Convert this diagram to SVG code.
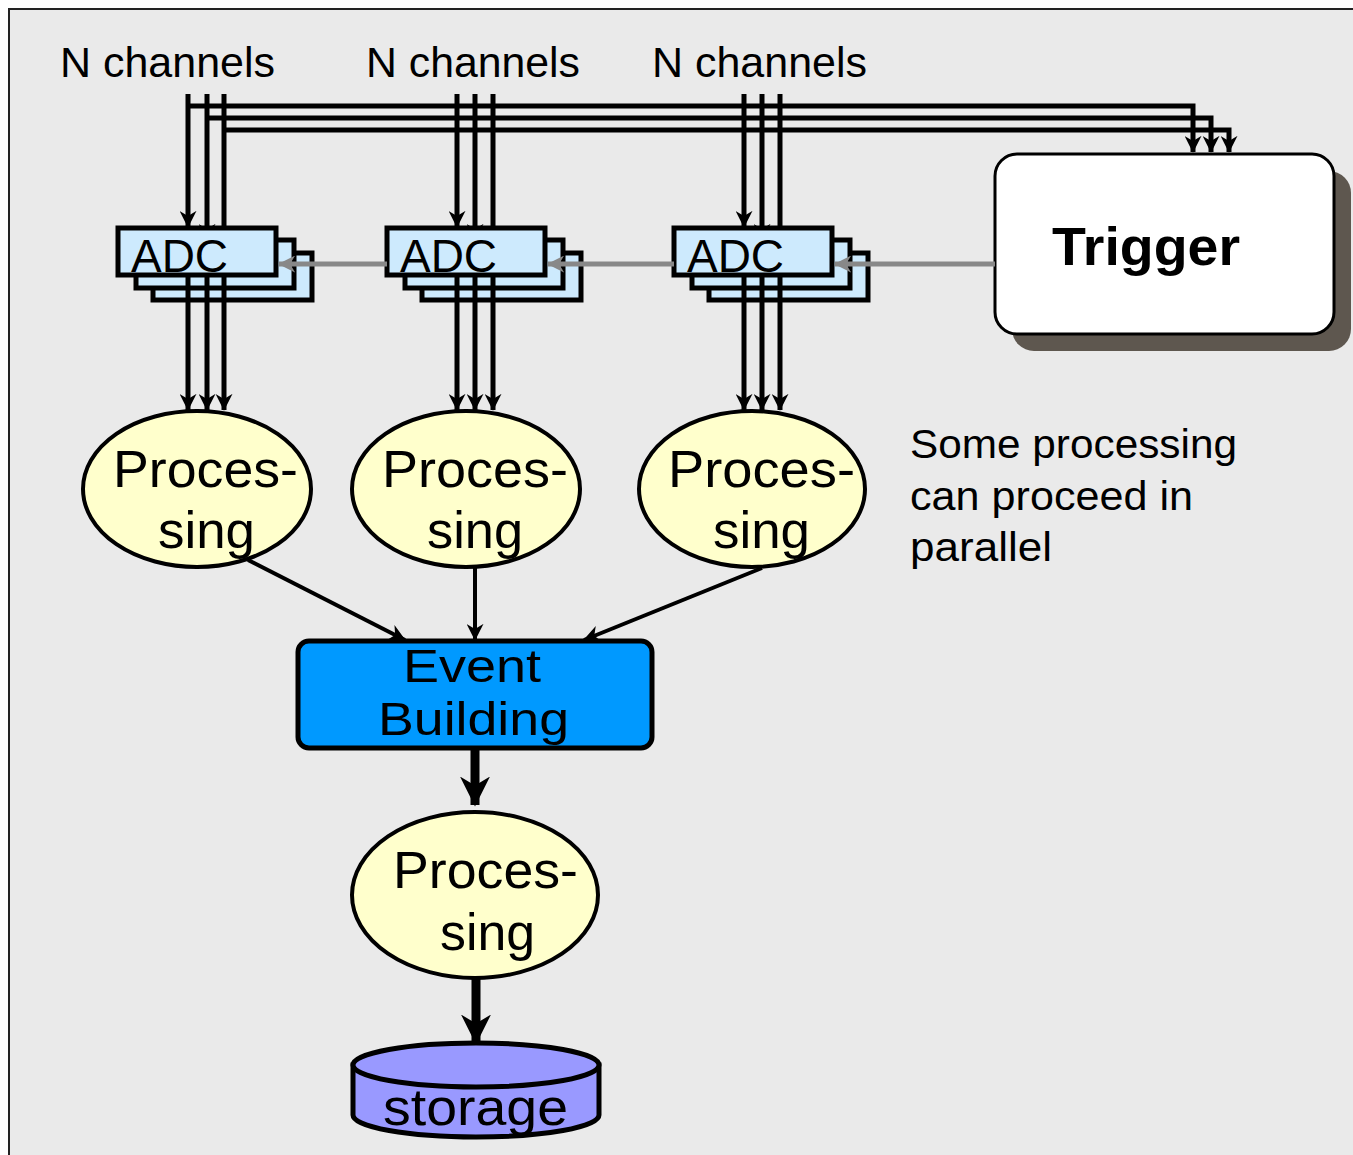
<svg xmlns="http://www.w3.org/2000/svg" width="1353" height="1155" viewBox="0 0 1353 1155">
<defs>
<style>
.t{font-family:"Liberation Sans",Arial,sans-serif;fill:#000}
.w{stroke:#000;stroke-width:5;fill:none}
.c{stroke:#000;stroke-width:4;fill:none}
.g{stroke:#888;stroke-width:5;fill:none}
.adc{fill:#cdeafd;stroke:#000;stroke-width:5}
.proc{fill:#ffffcc;stroke:#000;stroke-width:4}
</style>
<marker id="ah" viewBox="0 0 10 10" refX="9.5" refY="5" markerWidth="17" markerHeight="17" markerUnits="userSpaceOnUse" orient="auto"><path d="M0,0 L10,5 L0,10 L3,5 z" fill="#000"/></marker>
<marker id="ahg" viewBox="0 0 10 10" refX="9.5" refY="5" markerWidth="17" markerHeight="17" markerUnits="userSpaceOnUse" orient="auto"><path d="M0,0 L10,5 L0,10 L3,5 z" fill="#888"/></marker>
<marker id="ahb" viewBox="0 0 10 10" refX="9.5" refY="5" markerWidth="30" markerHeight="30" markerUnits="userSpaceOnUse" orient="auto"><path d="M0,0 L10,5 L0,10 L3,5 z" fill="#000"/></marker>
</defs>
<rect x="0" y="0" width="1353" height="1155" fill="#fff"/>
<rect x="9" y="9" width="1360" height="1160" fill="#eaeaea" stroke="#222" stroke-width="2"/>

<g id="labels">
<text class="t" x="60" y="77" font-size="42" textLength="215" lengthAdjust="spacingAndGlyphs">N channels</text>
<text class="t" x="366" y="77" font-size="42" textLength="214" lengthAdjust="spacingAndGlyphs">N channels</text>
<text class="t" x="652" y="77" font-size="42" textLength="215" lengthAdjust="spacingAndGlyphs">N channels</text>
<text class="t" x="910" y="458" font-size="41" textLength="327" lengthAdjust="spacingAndGlyphs">Some processing</text>
<text class="t" x="910" y="510" font-size="41" textLength="283" lengthAdjust="spacingAndGlyphs">can proceed in</text>
<text class="t" x="910" y="561" font-size="41" textLength="142" lengthAdjust="spacingAndGlyphs">parallel</text>
</g>

<g id="trigger">
<rect x="1012" y="171" width="339" height="180" rx="22" fill="#5e574f"/>
<rect x="995" y="154" width="339" height="180" rx="22" fill="#fff" stroke="#000" stroke-width="3"/>
<text class="t" x="1052" y="265" font-size="54" font-weight="bold" textLength="188" lengthAdjust="spacingAndGlyphs">Trigger</text>
</g>

<g id="connectors-top">
<path class="w" d="M188,106 H1193 V152" marker-end="url(#ah)"/>
<path class="w" d="M207,118 H1211 V152" marker-end="url(#ah)"/>
<path class="w" d="M224,130 H1229 V152" marker-end="url(#ah)"/>
<path class="w" d="M188,94 V227" marker-end="url(#ah)"/>
<path class="w" d="M207,94 V240" marker-end="url(#ah)"/>
<path class="w" d="M224,94 V232"/>
<path class="w" d="M457,94 V227" marker-end="url(#ah)"/>
<path class="w" d="M475,94 V240" marker-end="url(#ah)"/>
<path class="w" d="M493,94 V232"/>
<path class="w" d="M744,94 V227" marker-end="url(#ah)"/>
<path class="w" d="M762,94 V240" marker-end="url(#ah)"/>
<path class="w" d="M780,94 V232"/>
</g>

<g id="adc1">
<rect class="adc" x="153" y="253" width="159" height="47"/>
<rect class="adc" x="136" y="240" width="158" height="48"/>
<rect class="adc" x="118" y="228" width="158" height="47"/>
<text class="t" x="131" y="272" font-size="46" textLength="97" lengthAdjust="spacingAndGlyphs">ADC</text>
</g>
<g id="adc2">
<rect class="adc" x="422" y="253" width="159" height="47"/>
<rect class="adc" x="405" y="240" width="158" height="48"/>
<rect class="adc" x="387" y="228" width="158" height="47"/>
<text class="t" x="400" y="272" font-size="46" textLength="97" lengthAdjust="spacingAndGlyphs">ADC</text>
</g>
<g id="adc3">
<rect class="adc" x="709" y="253" width="159" height="47"/>
<rect class="adc" x="692" y="240" width="158" height="48"/>
<rect class="adc" x="674" y="228" width="158" height="47"/>
<text class="t" x="687" y="272" font-size="46" textLength="97" lengthAdjust="spacingAndGlyphs">ADC</text>
</g>

<g id="connectors">
<path class="g" d="M995,264 H835" marker-end="url(#ahg)"/>
<path class="g" d="M674,264 H548" marker-end="url(#ahg)"/>
<path class="g" d="M387,264 H279" marker-end="url(#ahg)"/>
<path class="w" d="M188,275 V410" marker-end="url(#ah)"/>
<path class="w" d="M207,275 V410" marker-end="url(#ah)"/>
<path class="w" d="M224,275 V410" marker-end="url(#ah)"/>
<path class="w" d="M457,275 V410" marker-end="url(#ah)"/>
<path class="w" d="M475,275 V410" marker-end="url(#ah)"/>
<path class="w" d="M493,275 V410" marker-end="url(#ah)"/>
<path class="w" d="M744,275 V410" marker-end="url(#ah)"/>
<path class="w" d="M762,275 V410" marker-end="url(#ah)"/>
<path class="w" d="M780,275 V410" marker-end="url(#ah)"/>
<path class="c" d="M248,560 L405,640" marker-end="url(#ah)"/>
<path class="c" d="M475,567 V640" marker-end="url(#ah)"/>
<path class="c" d="M762,568 L584,640" marker-end="url(#ah)"/>
<path stroke="#000" stroke-width="9" fill="none" d="M475,748 V805" marker-end="url(#ahb)"/>
<path stroke="#000" stroke-width="9" fill="none" d="M476,978 V1043" marker-end="url(#ahb)"/>
</g>

<g id="proc1">
<ellipse class="proc" cx="197" cy="489" rx="114" ry="78"/>
<text class="t" x="113" y="487" font-size="52" textLength="185" lengthAdjust="spacingAndGlyphs">Proces-</text>
<text class="t" x="158" y="548" font-size="52" textLength="97" lengthAdjust="spacingAndGlyphs">sing</text>
</g>
<g id="proc2">
<ellipse class="proc" cx="466" cy="489" rx="114" ry="78"/>
<text class="t" x="382" y="487" font-size="52" textLength="186" lengthAdjust="spacingAndGlyphs">Proces-</text>
<text class="t" x="427" y="548" font-size="52" textLength="96" lengthAdjust="spacingAndGlyphs">sing</text>
</g>
<g id="proc3">
<ellipse class="proc" cx="752" cy="489" rx="113" ry="78"/>
<text class="t" x="668" y="487" font-size="52" textLength="187" lengthAdjust="spacingAndGlyphs">Proces-</text>
<text class="t" x="713" y="548" font-size="52" textLength="97" lengthAdjust="spacingAndGlyphs">sing</text>
</g>

<g id="event-building">
<rect x="298" y="641" width="354" height="107" rx="11" fill="#0099ff" stroke="#000" stroke-width="5"/>
<text class="t" x="403" y="682" font-size="47" textLength="138" lengthAdjust="spacingAndGlyphs">Event</text>
<text class="t" x="378" y="735" font-size="47" textLength="191" lengthAdjust="spacingAndGlyphs">Building</text>
</g>

<g id="proc4">
<ellipse class="proc" cx="475" cy="895" rx="123" ry="83"/>
<text class="t" x="393" y="888" font-size="52" textLength="185" lengthAdjust="spacingAndGlyphs">Proces-</text>
<text class="t" x="440" y="950" font-size="52" textLength="95" lengthAdjust="spacingAndGlyphs">sing</text>
</g>

<g id="storage">
<path d="M353,1065 V1115 A123,22 0 0 0 599,1115 V1065 Z" fill="#9999ff" stroke="#000" stroke-width="5"/>
<ellipse cx="476" cy="1065" rx="123" ry="22" fill="#9999ff" stroke="#000" stroke-width="5"/>
<text class="t" x="383" y="1125" font-size="52" textLength="185" lengthAdjust="spacingAndGlyphs">storage</text>
</g>
</svg>
